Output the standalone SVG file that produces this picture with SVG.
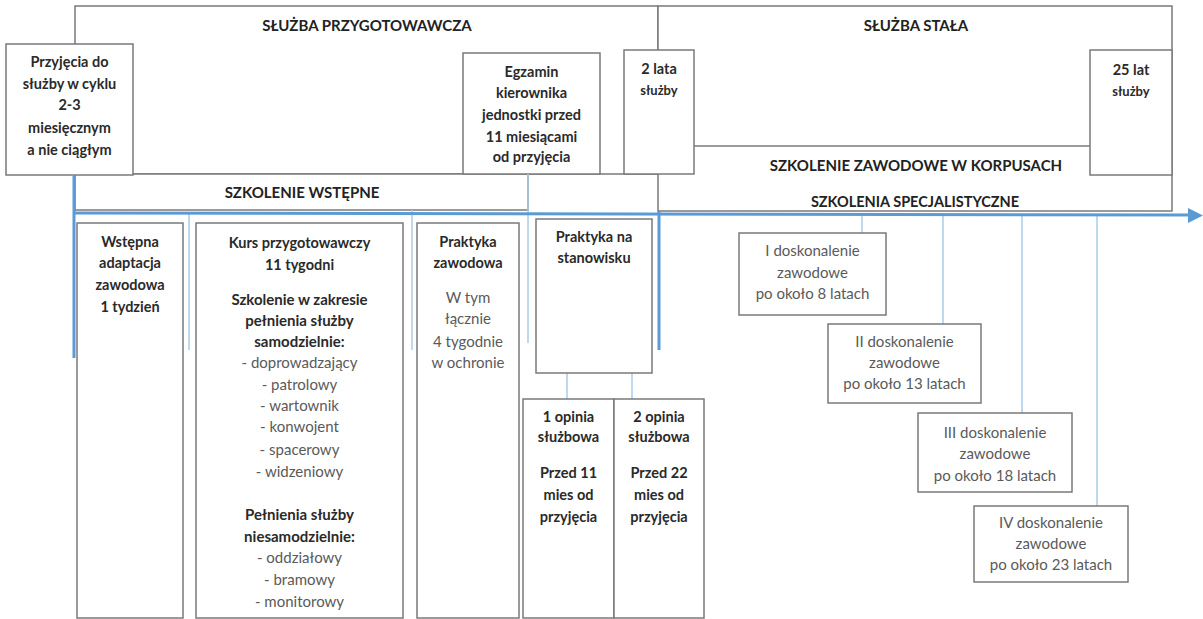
<svg xmlns="http://www.w3.org/2000/svg" width="1203" height="619" viewBox="0 0 1203 619">
<style>
.box{fill:#fff;stroke:#7a7a7a;stroke-width:1.5}
.frame{fill:none;stroke:#7a7a7a;stroke-width:1.5}
.tl{stroke:#5b9bd5;stroke-width:3;fill:none}
.cn{stroke:#a9cbe9;stroke-width:1.5;fill:none}
text{font-family:Lato,"Liberation Sans",sans-serif;text-anchor:middle}
.h{font-size:15px;font-weight:bold;fill:#222}
.b{font-size:14.5px;font-weight:bold;fill:#2a2a2a}
.bl{font-size:15px;font-weight:bold;fill:#2a2a2a}
.n{font-size:15px;fill:#5a5a5a}
.s{font-size:13px}
</style>
<rect width="1203" height="619" fill="#fff"/>

<g id="sluzba-przygotowawcza">
<rect class="box" x="75" y="6" width="583" height="168"/>
<text class="h" x="367" y="31">SŁUŻBA PRZYGOTOWAWCZA</text>
</g>
<g id="sluzba-stala">
<rect class="box" x="658" y="6" width="514" height="205"/>
<text class="h" x="916" y="31">SŁUŻBA STAŁA</text>
</g>
<g id="szkolenie-zawodowe">
<line class="frame" x1="694" y1="146" x2="1090" y2="146"/>
<text class="h" x="916" y="171">SZKOLENIE ZAWODOWE W KORPUSACH</text>
</g>
<g id="szkolenia-specjalistyczne">
<text class="h" x="915" y="207" style="font-size:14.5px">SZKOLENIA SPECJALISTYCZNE</text>
</g>
<g id="szkolenie-wstepne">
<rect class="box" x="75" y="174" width="453" height="36"/>
<text class="h" x="302" y="198">SZKOLENIE WSTĘPNE</text>
</g>
<g id="przyjecia">
<rect class="box" x="6" y="44" width="127" height="131"/>
<text class="b" x="69.5" y="67">Przyjęcia do</text>
<text class="b" x="69.5" y="89">służby w cyklu</text>
<text class="b" x="69.5" y="110">2-3</text>
<text class="b" x="69.5" y="133">miesięcznym</text>
<text class="b" x="69.5" y="155">a nie ciągłym</text>
</g>
<g id="egzamin">
<rect class="box" x="463" y="53" width="137" height="121"/>
<text class="b" x="531.5" y="77">Egzamin</text>
<text class="b" x="531.5" y="98">kierownika</text>
<text class="b" x="531.5" y="120">jednostki przed</text>
<text class="b" x="531.5" y="142">11 miesiącami</text>
<text class="b" x="531.5" y="162">od przyjęcia</text>
</g>
<g id="dwa-lata">
<rect class="box" x="624" y="50" width="70" height="124"/>
<text class="b" x="659" y="74">2 lata</text>
<text class="b s" x="659" y="95">służby</text>
</g>
<g id="dwadziescia-piec-lat">
<rect class="box" x="1090" y="50" width="82" height="125"/>
<text class="b" x="1131" y="75">25 lat</text>
<text class="b s" x="1131" y="96">służby</text>
</g>

<g id="connectors">
<line class="cn" x1="189" y1="213" x2="189" y2="350"/>
<line class="cn" x1="412" y1="210" x2="412" y2="350"/>
<line class="cn" x1="528" y1="174" x2="528" y2="343"/>
<line class="cn" x1="567" y1="373" x2="567" y2="399"/>
<line class="cn" x1="632" y1="373" x2="632" y2="399"/>
<line class="cn" x1="862" y1="214" x2="862" y2="233"/>
<line class="cn" x1="943" y1="214" x2="943" y2="324"/>
<line class="cn" x1="1022" y1="214" x2="1022" y2="413"/>
<line class="cn" x1="1097" y1="214" x2="1097" y2="506"/>
<line class="tl" x1="74" y1="176" x2="74" y2="358"/>
<line class="tl" x1="659" y1="211" x2="659" y2="350"/>
<line class="tl" x1="74" y1="213" x2="1191" y2="215"/>
<polygon points="1188,208 1203,215.5 1188,223" fill="#5b9bd5"/>
</g>

<g id="wstepna-adaptacja">
<rect class="box" x="77" y="223" width="106" height="395"/>
<text class="b" x="130" y="247">Wstępna</text>
<text class="b" x="130" y="268">adaptacja</text>
<text class="b" x="130" y="290">zawodowa</text>
<text class="b" x="130" y="312">1 tydzień</text>
</g>
<g id="kurs">
<rect class="box" x="196" y="223" width="207" height="395"/>
<text class="b" x="299.5" y="248">Kurs przygotowawczy</text>
<text class="b" x="299.5" y="270">11 tygodni</text>
<text class="bl" x="299.5" y="305">Szkolenie w zakresie</text>
<text class="bl" x="299.5" y="326">pełnienia służby</text>
<text class="bl" x="299.5" y="347">samodzielnie:</text>
<text class="n" x="299.5" y="368">- doprowadzający</text>
<text class="n" x="299.5" y="390">- patrolowy</text>
<text class="n" x="299.5" y="411">- wartownik</text>
<text class="n" x="299.5" y="432">- konwojent</text>
<text class="n" x="299.5" y="455">- spacerowy</text>
<text class="n" x="299.5" y="477">- widzeniowy</text>
<text class="bl" x="299.5" y="520">Pełnienia służby</text>
<text class="bl" x="299.5" y="542">niesamodzielnie:</text>
<text class="n" x="299.5" y="563">- oddziałowy</text>
<text class="n" x="299.5" y="585">- bramowy</text>
<text class="n" x="299.5" y="607">- monitorowy</text>
</g>
<g id="praktyka-zawodowa">
<rect class="box" x="417" y="223" width="102" height="395"/>
<text class="b" x="468" y="247">Praktyka</text>
<text class="b" x="468" y="268">zawodowa</text>
<text class="n" x="468" y="303">W tym</text>
<text class="n" x="468" y="324">łącznie</text>
<text class="n" x="468" y="347">4 tygodnie</text>
<text class="n" x="468" y="368">w ochronie</text>
</g>
<g id="praktyka-stanowisko">
<rect class="box" x="536" y="219" width="116" height="154"/>
<text class="b" x="594" y="242">Praktyka na</text>
<text class="b" x="594" y="263">stanowisku</text>
</g>
<g id="opinia-1">
<rect class="box" x="523" y="399" width="91" height="219"/>
<text class="b" x="568.5" y="422">1 opinia</text>
<text class="b" x="568.5" y="442">służbowa</text>
<text class="b" x="568.5" y="478">Przed 11</text>
<text class="b" x="568.5" y="500">mies od</text>
<text class="b" x="568.5" y="522">przyjęcia</text>
</g>
<g id="opinia-2">
<rect class="box" x="614" y="399" width="90" height="219"/>
<text class="b" x="659" y="422">2 opinia</text>
<text class="b" x="659" y="442">służbowa</text>
<text class="b" x="659" y="478">Przed 22</text>
<text class="b" x="659" y="500">mies od</text>
<text class="b" x="659" y="522">przyjęcia</text>
</g>
<g id="doskonalenie-1">
<rect class="box" x="739" y="233" width="147" height="82"/>
<text class="n" x="812.5" y="256">I doskonalenie</text>
<text class="n" x="812.5" y="278">zawodowe</text>
<text class="n" x="812.5" y="299">po około 8 latach</text>
</g>
<g id="doskonalenie-2">
<rect class="box" x="828" y="324" width="153" height="79"/>
<text class="n" x="904.5" y="347">II doskonalenie</text>
<text class="n" x="904.5" y="368">zawodowe</text>
<text class="n" x="904.5" y="389">po około 13 latach</text>
</g>
<g id="doskonalenie-3">
<rect class="box" x="918" y="413" width="154" height="79"/>
<text class="n" x="995" y="438">III doskonalenie</text>
<text class="n" x="995" y="459">zawodowe</text>
<text class="n" x="995" y="481">po około 18 latach</text>
</g>
<g id="doskonalenie-4">
<rect class="box" x="974" y="506" width="154" height="76"/>
<text class="n" x="1051" y="528">IV doskonalenie</text>
<text class="n" x="1051" y="549">zawodowe</text>
<text class="n" x="1051" y="570">po około 23 latach</text>
</g>
</svg>
